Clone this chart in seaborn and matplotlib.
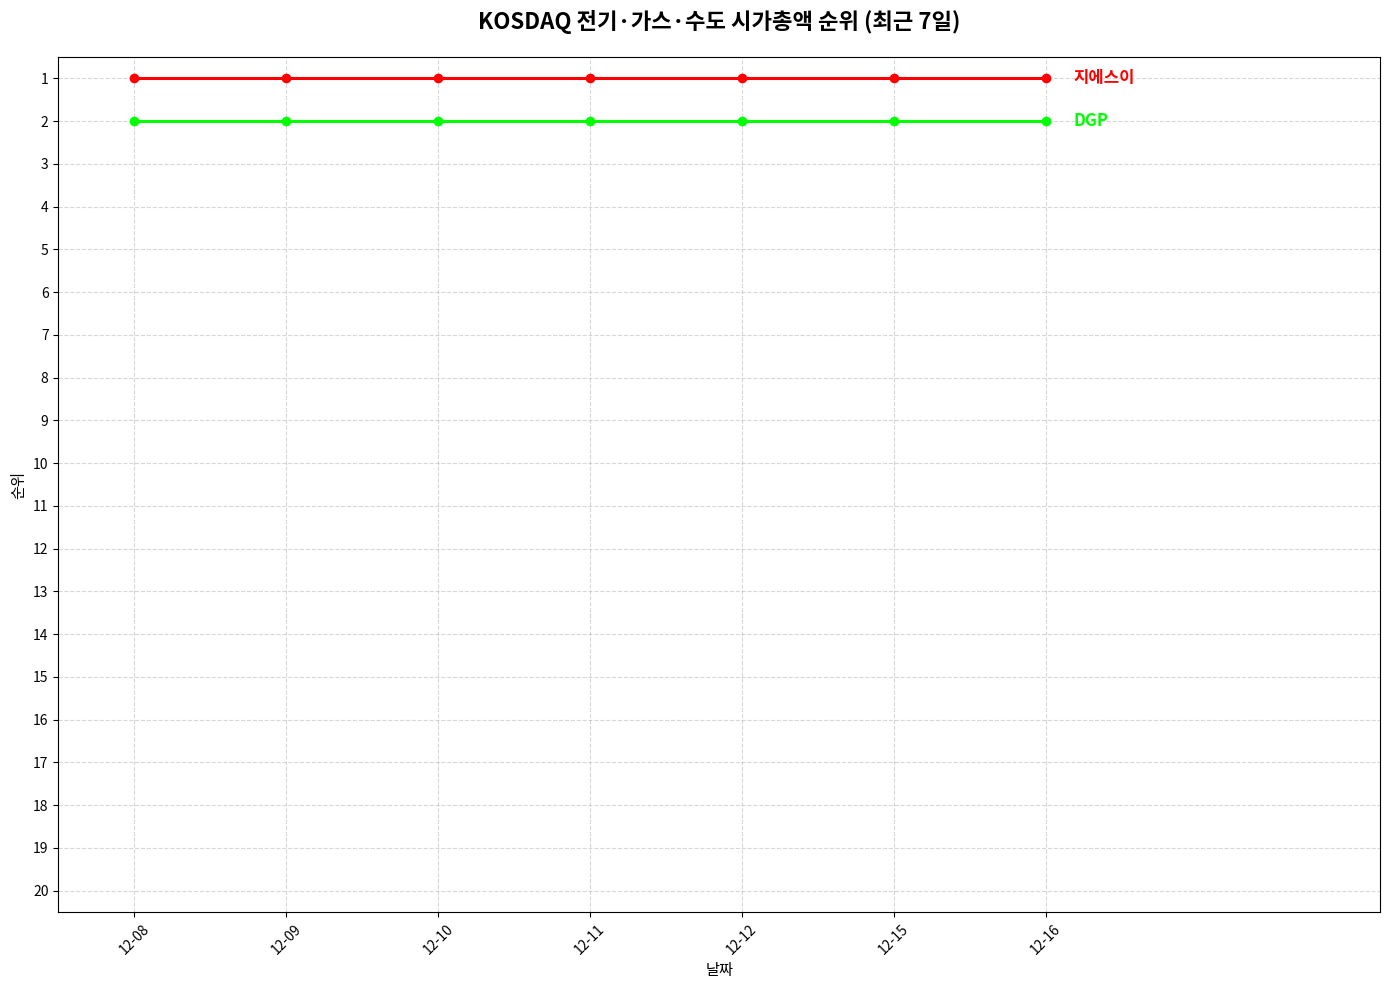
import pandas as pd
import seaborn as sns

import matplotlib
matplotlib.use('Agg')
import matplotlib.pyplot as plt

plt.rcParams['font.family'] = ['Noto Sans CJK KR', 'DejaVu Sans']
plt.rcParams['axes.unicode_minus'] = False

dates = ['12-08', '12-09', '12-10', '12-11', '12-12', '12-15', '12-16']
names = ['지에스이', 'DGP']
rank_gse = [1, 1, 1, 1, 1, 1, 1]
rank_dgp = [2, 2, 2, 2, 2, 2, 2]
colors = ['#ff0000', '#00ff00']

df = pd.DataFrame({
    'date': dates * 2,
    'x': list(range(len(dates))) * 2,
    'rank': rank_gse + rank_dgp,
    'name': [names[0]] * len(dates) + [names[1]] * len(dates),
})

fig, ax = plt.subplots(figsize=(13.89, 9.9), dpi=100)
plt.subplots_adjust(left=0.042, right=0.9935, top=0.9424, bottom=0.0788)

sns.lineplot(data=df, x='x', y='rank', hue='name', palette=colors,
             marker='o', markersize=7, markeredgewidth=0, linewidth=2.2,
             legend=False, ax=ax)

# label at end of each line
for name, col in zip(names, colors):
    last = df[df['name'] == name].iloc[-1]
    ax.text(last['x'] + 0.18, last['rank'], name, color=col,
            fontsize=12, fontweight='bold', va='center', ha='left')

ax.set_xticks(range(len(dates)))
ax.set_xticklabels(dates, rotation=45)
ax.set_xlim(-0.5, len(dates) + 1.2)
ax.set_yticks(range(1, 21))
ax.set_ylim(20.5, 0.5)
ax.grid(True, linestyle='--', alpha=0.5)
ax.set_xlabel('날짜', fontsize=11)
ax.set_ylabel('순위', fontsize=11)
ax.set_title('KOSDAQ 전기·가스·수도 시가총액 순위 (최근 7일)',
             fontsize=16, fontweight='bold', pad=20)

plt.savefig('out.png', dpi=100)
